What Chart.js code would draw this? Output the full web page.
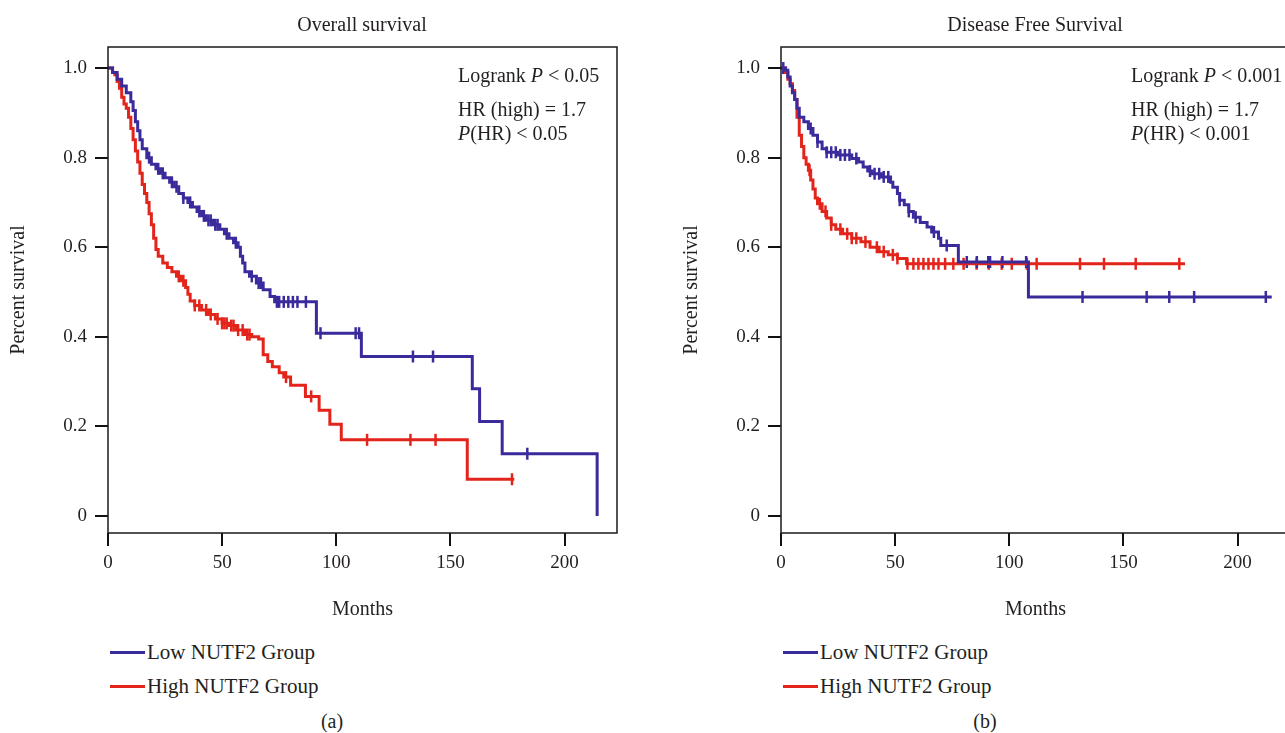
<!DOCTYPE html>
<html>
<head>
<meta charset="utf-8">
<title>NUTF2 survival curves</title>
<script src="https://cdn.jsdelivr.net/npm/chart.js@4.4.0/dist/chart.umd.min.js"></script>
<style>
  html, body { margin: 0; padding: 0; background: #fff; }
  body {
    position: relative; width: 1285px; height: 733px; overflow: hidden;
    font-family: "Liberation Serif", "DejaVu Serif", serif; color: #231f20;
  }
  .box { position: absolute; top: 0; width: 640px; height: 640px; }
  .txt { position: absolute; font-size: 20px; line-height: 24px; white-space: nowrap; }
  .mid { transform: translateX(-50%); }
  .legend-row { position: absolute; display: flex; align-items: center; font-size: 21px; line-height: 24px; white-space: nowrap; }
  .legend-row span.swatch { display: inline-block; width: 35px; height: 3px; margin-right: 2px; }
</style>
</head>
<body>

<div class="box" style="left:0px;"><canvas id="osChart" width="640" height="640"></canvas></div>
<div class="box" style="left:673px;"><canvas id="dfsChart" width="640" height="640"></canvas></div>

<div class="txt mid" style="left:362px; top:12px;">Overall survival</div>
<div class="txt mid" style="left:1035px; top:12px;">Disease Free Survival</div>

<div class="txt" style="left:458px; top:63px;">Logrank <i>P</i> &lt; 0.05</div>
<div class="txt" style="left:458px; top:97px;">HR (high) = 1.7</div>
<div class="txt" style="left:458px; top:121px;"><i>P</i>(HR) &lt; 0.05</div>

<div class="txt" style="left:1131px; top:63px;">Logrank <i>P</i> &lt; 0.001</div>
<div class="txt" style="left:1131px; top:97px;">HR (high) = 1.7</div>
<div class="txt" style="left:1131px; top:121px;"><i>P</i>(HR) &lt; 0.001</div>

<div id="legendOs"></div>
<div id="legendDfs"></div>

<div class="txt mid" style="left:332px; top:709px;">(a)</div>
<div class="txt mid" style="left:985px; top:709px;">(b)</div>

<script>
// --- Values (months / fraction surviving) ---
const xTicks = [0, 50, 100, 150, 200];
const yTicks = [0, 0.2, 0.4, 0.6, 0.8, 1.0];
const yTickLabels = ['0', '0.2', '0.4', '0.6', '0.8', '1.0'];
const groupNames = ['Low NUTF2 Group', 'High NUTF2 Group'];
const groupColors = ['#3a2b9c', '#e3241b'];

// Overall survival - low group (step times and survival after each step)
const osLowTime = [0, 2, 4, 6, 8, 10, 11, 12, 13, 14, 15, 17, 19, 21, 23, 25, 27, 29, 31, 33, 35, 37, 39, 41, 43,
  46, 49, 51, 53, 55, 57, 58, 59, 60, 62, 65, 68, 71, 73, 91.3, 111, 159.6, 162.8, 172.7, 214.3];
const osLowSurv = [1.0, 0.99, 0.975, 0.96, 0.945, 0.925, 0.905, 0.88, 0.86, 0.84, 0.82, 0.80, 0.785, 0.775, 0.765,
  0.755, 0.745, 0.735, 0.72, 0.71, 0.70, 0.69, 0.68, 0.67, 0.66, 0.65, 0.64, 0.63, 0.62, 0.61, 0.60, 0.58, 0.565,
  0.545, 0.535, 0.52, 0.505, 0.49, 0.478, 0.408, 0.356, 0.284, 0.211, 0.139, 0];
const osLowCensor = [18, 22, 24, 28, 30, 33, 36, 40, 42, 44, 45, 47, 48, 52, 56, 63, 66, 67, 74, 75, 77, 79, 81, 83,
  86.7, 93.1, 108.5, 110, 133.6, 142.4, 183.7];

// Overall survival - high group
const osHighTime = [0, 2, 3, 4, 5, 6, 7, 8, 9, 10, 11, 12, 13, 14, 15, 16, 17, 18, 19, 20, 21, 22, 24, 26, 28, 30,
  32, 34, 35, 36, 38, 41, 44, 47, 50, 53, 56, 60, 63, 66, 68, 70, 72, 75, 77, 80, 86.5, 92.5, 97.2, 102.2, 157.4, 178];
const osHighSurv = [1.0, 0.99, 0.985, 0.97, 0.955, 0.935, 0.92, 0.91, 0.89, 0.865, 0.84, 0.815, 0.79, 0.765, 0.74,
  0.72, 0.70, 0.675, 0.65, 0.62, 0.595, 0.58, 0.565, 0.555, 0.545, 0.535, 0.525, 0.51, 0.495, 0.48, 0.47, 0.46,
  0.45, 0.44, 0.43, 0.425, 0.415, 0.405, 0.40, 0.395, 0.36, 0.345, 0.333, 0.32, 0.31, 0.292, 0.267, 0.236, 0.205,
  0.170, 0.082, 0.082];
const osHighCensor = [31, 33, 38, 40, 43, 45, 48, 50, 51, 52, 54, 55, 57, 59, 61, 62, 78, 89, 113.5, 132.5, 143.5, 177];

// Disease free survival - low group
const dfsLowTime = [0, 2, 3, 4, 5, 6, 7, 8, 10, 12, 14, 16, 18, 20, 25, 31, 34, 36, 38, 40, 44, 48, 49, 51, 52,
  54, 56, 58, 61, 64, 66, 69, 70, 77.7, 108.4, 215];
const dfsLowSurv = [1.0, 0.995, 0.98, 0.96, 0.945, 0.93, 0.91, 0.89, 0.88, 0.865, 0.85, 0.835, 0.82, 0.812, 0.806,
  0.798, 0.79, 0.779, 0.77, 0.764, 0.757, 0.745, 0.734, 0.72, 0.705, 0.695, 0.68, 0.667, 0.655, 0.645, 0.634, 0.62,
  0.604, 0.567, 0.489, 0.489];
const dfsLowCensor = [1, 13, 16, 20, 22, 24, 26, 28, 30, 33, 39, 41, 43, 45, 47, 52, 56, 59, 67, 72.6, 81.4, 85.8,
  90.8, 91.6, 97, 107.4, 132.1, 160.2, 170.1, 181, 212.4];

// Disease free survival - high group
const dfsHighTime = [0, 2, 3, 4, 5, 6, 7, 8, 9, 10, 11, 12, 13, 14, 15, 16, 18, 20, 22, 24, 27, 31, 35, 39, 43,
  47, 51, 55, 177];
const dfsHighSurv = [1.0, 0.99, 0.975, 0.965, 0.95, 0.93, 0.89, 0.85, 0.825, 0.80, 0.785, 0.772, 0.75, 0.73, 0.71,
  0.697, 0.68, 0.665, 0.65, 0.64, 0.63, 0.62, 0.612, 0.60, 0.59, 0.583, 0.575, 0.563, 0.563];
const dfsHighCensor = [12.5, 17, 19.5, 22, 26, 29, 31, 33, 37, 42, 45, 49, 51, 55.4, 58, 60.2, 62.4, 64.6, 66.8,
  69, 71.9, 75.5, 80, 85.7, 91, 96.7, 101.1, 107.7, 112, 131, 141.5, 155.4, 174.5];

// --- Helpers ---
// Survival level of a step curve at time t (for placing censor ticks on the curve)
function survAt(times, surv, t) {
  let s = surv[0];
  for (let i = 0; i < times.length; i++) {
    if (times[i] <= t) s = surv[i];
  }
  return s;
}

// Draws the closed box round the plot area
const frameBox = {
  id: 'frameBox',
  afterDatasetsDraw(chart) {
    const { ctx, chartArea: a } = chart;
    ctx.save();
    ctx.strokeStyle = '#1a1a1a';
    ctx.lineWidth = 1.5;
    ctx.strokeRect(a.left, a.top, a.right - a.left, a.bottom - a.top);
    ctx.restore();
  }
};

function curveSet(times, surv, color) {
  return {
    data: times.map((t, i) => ({ x: t, y: surv[i] })),
    showLine: true,
    stepped: true,
    borderColor: color,
    borderWidth: 3,
    pointRadius: 0,
    fill: false
  };
}

function censorSet(times, surv, censor, color) {
  return {
    data: censor.map(t => ({ x: t, y: survAt(times, surv, t) })),
    showLine: false,
    pointStyle: 'line',
    rotation: 90,
    pointRadius: 6,
    pointBorderWidth: 2.5,
    borderColor: color,
    pointBorderColor: color
  };
}

function buildChart(canvasId, low, high) {
  const ctx = document.getElementById(canvasId);
  const tickFont = { family: '"Liberation Serif", serif', size: 19 };
  const titleFont = { family: '"Liberation Serif", serif', size: 20 };

  return new Chart(ctx, {
    type: 'scatter',
    data: {
      datasets: [
        curveSet(low.time, low.surv, groupColors[0]),
        curveSet(high.time, high.surv, groupColors[1]),
        censorSet(low.time, low.surv, low.censor, groupColors[0]),
        censorSet(high.time, high.surv, high.censor, groupColors[1])
      ]
    },
    options: {
      responsive: false,
      animation: false,
      devicePixelRatio: 1,
      layout: { padding: { left: 0, right: 23, top: 47, bottom: 0 } },
      plugins: { legend: { display: false }, tooltip: { enabled: false } },
      scales: {
        x: {
          type: 'linear',
          min: 0,
          max: 223,
          afterBuildTicks: s => { s.ticks = xTicks.map(v => ({ value: v })); },
          afterFit: s => { s.height = 107; },
          ticks: { font: tickFont, color: '#231f20', padding: 6, maxRotation: 0, autoSkip: false },
          grid: { drawOnChartArea: false, drawTicks: true, tickLength: 13, color: '#111', lineWidth: 2 },
          border: { display: false },
          title: { display: true, text: 'Months', font: titleFont, color: '#231f20', padding: { top: 0, bottom: 18 } }
        },
        y: {
          type: 'linear',
          min: -0.038,
          max: 1.047,
          afterBuildTicks: s => { s.ticks = yTicks.map(v => ({ value: v })); },
          afterFit: s => { s.width = 108; },
          ticks: {
            font: tickFont, color: '#231f20', padding: 8, autoSkip: false,
            callback: value => yTickLabels[yTicks.indexOf(value)]
          },
          grid: { drawOnChartArea: false, drawTicks: true, tickLength: 13, color: '#111', lineWidth: 2 },
          border: { display: false },
          title: { display: true, text: 'Percent survival', font: titleFont, color: '#231f20', padding: { top: 7, bottom: 0 } }
        }
      }
    },
    plugins: [frameBox]
  });
}

// --- Legend rows under each chart ---
function buildLegend(elId, left, top) {
  const el = document.getElementById(elId);
  groupNames.forEach((name, i) => {
    const row = document.createElement('div');
    row.className = 'legend-row';
    row.style.left = left + 'px';
    row.style.top = (top + i * 34 - 12) + 'px';
    row.innerHTML = `<span class="swatch" style="background:${groupColors[i]}"></span>${name}`;
    el.appendChild(row);
  });
}

document.addEventListener('DOMContentLoaded', () => {
  buildChart('osChart',
    { time: osLowTime, surv: osLowSurv, censor: osLowCensor },
    { time: osHighTime, surv: osHighSurv, censor: osHighCensor });
  buildChart('dfsChart',
    { time: dfsLowTime, surv: dfsLowSurv, censor: dfsLowCensor },
    { time: dfsHighTime, surv: dfsHighSurv, censor: dfsHighCensor });
  buildLegend('legendOs', 110, 652);
  buildLegend('legendDfs', 783, 652);
});
</script>
</body>
</html>
